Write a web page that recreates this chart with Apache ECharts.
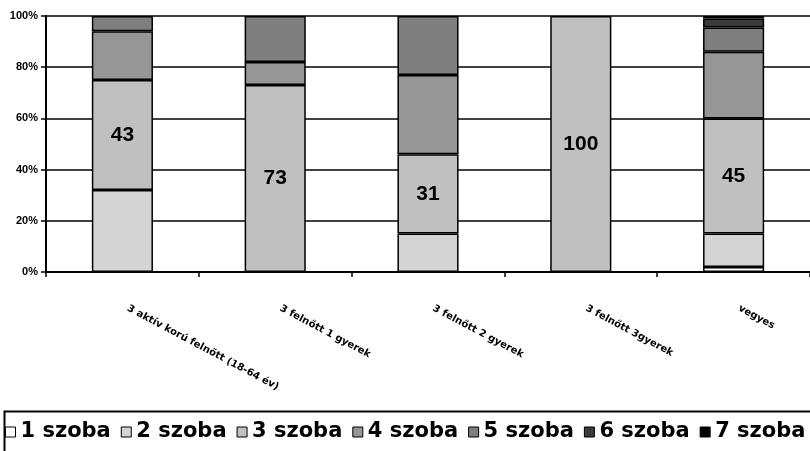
<!DOCTYPE html>
<html>
<head>
<meta charset="utf-8">
<script src="https://cdn.jsdelivr.net/npm/echarts@6/dist/echarts.min.js"></script>
<style>
  html, body { margin: 0; padding: 0; background: #fff; }
  #chart { width: 810px; height: 451px; }
</style>
</head>
<body>
<div id="chart"></div>
<script>
// Household types
const categories = ['3 aktív korú felnőtt (18-64 év)', '3 felnőtt 1 gyerek', '3 felnőtt 2 gyerek', '3 felnőtt 3gyerek', 'vegyes'];

// Share of dwellings by number of rooms (%), one array per room count
const szoba1 = [null, null, null, null, 2];
const szoba2 = [32, null, 15, null, 13];
const szoba3 = [43, 73, 31, 100, 45];
const szoba4 = [19, 9, 31, null, 26];
const szoba5 = [6, 18, 23, null, 9.5];
const szoba6 = [null, null, null, null, 3.5];
const szoba7 = [null, null, null, null, 1];

const seriesNames = ['1 szoba', '2 szoba', '3 szoba', '4 szoba', '5 szoba', '6 szoba', '7 szoba'];
const seriesData = [szoba1, szoba2, szoba3, szoba4, szoba5, szoba6, szoba7];
const seriesColors = ['#ffffff', '#d4d4d4', '#c0c0c0', '#969696', '#7f7f7f', '#3a3a3a', '#000000'];

const yTicks = [0, 20, 40, 60, 80, 100];

const chart = echarts.init(document.getElementById('chart'));

const series = seriesNames.map((name, i) => ({
  name: name,
  type: 'bar',
  stack: 'total',
  barWidth: '40%',
  data: seriesData[i],
  itemStyle: { color: seriesColors[i], borderColor: '#000', borderWidth: 1.5 },
  label: name === '3 szoba' ? {
    show: true,
    position: 'inside',
    color: '#000',
    fontFamily: 'Arial, "Liberation Sans", sans-serif',
    fontWeight: 'bold',
    fontSize: 21
  } : { show: false },
  emphasis: { disabled: true }
}));

chart.setOption({
  animation: false,
  backgroundColor: '#fff',
  grid: { left: 46, top: 16, right: -11, bottom: 179, containLabel: false },
  xAxis: {
    type: 'category',
    data: categories,
    axisLine: { lineStyle: { color: '#000', width: 2 } },
    axisTick: { show: true, length: 5, lineStyle: { color: '#000', width: 1.5 } },
    axisLabel: {
      rotate: -28,
      interval: 0,
      margin: 33,
      padding: [0, 0, 0, 6],
      color: '#000',
      fontFamily: '"DejaVu Sans", sans-serif',
      fontWeight: 'bold',
      fontSize: 10
    }
  },
  yAxis: {
    type: 'value',
    min: yTicks[0],
    max: yTicks[yTicks.length - 1],
    interval: 20,
    axisLine: { show: true, lineStyle: { color: '#000', width: 2 } },
    axisTick: { show: true, length: 5, lineStyle: { color: '#000', width: 1.5 } },
    axisLabel: {
      formatter: '{value}%',
      margin: 8,
      color: '#000',
      fontFamily: 'Arial, "Liberation Sans", sans-serif',
      fontWeight: 'bold',
      fontSize: 11
    },
    splitLine: { show: true, lineStyle: { color: '#000', width: 1.5 } }
  },
  legend: {
    data: seriesNames,
    left: 5,
    top: 420,
    width: 1000,
    padding: 0,
    icon: 'rect',
    itemWidth: 10,
    itemHeight: 10,
    itemGap: 10,
    itemStyle: { borderColor: '#000', borderWidth: 1 },
    textStyle: {
      color: '#000',
      fontFamily: '"DejaVu Sans", sans-serif',
      fontWeight: 'bold',
      fontSize: 21,
      lineHeight: 24,
      padding: [0, 0, 0, 0]
    },
    selectedMode: false
  },
  graphic: [{
    type: 'rect',
    left: 2,
    top: 409,
    shape: { width: 840, height: 70 },
    style: { fill: 'none', stroke: '#000', lineWidth: 2 },
    silent: true
  }],
  series: series
});
</script>
</body>
</html>
